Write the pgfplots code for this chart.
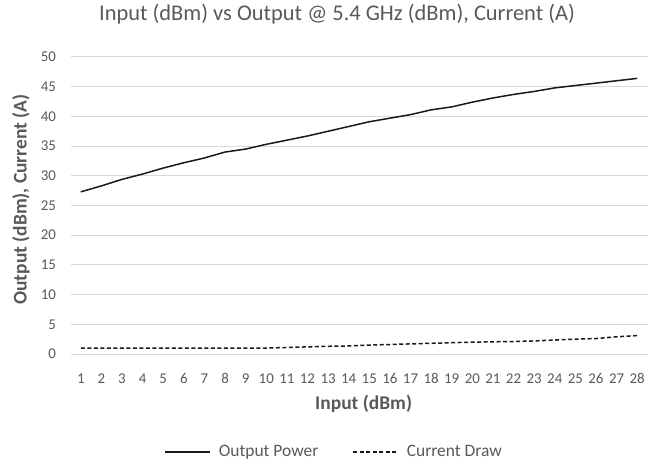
\documentclass[border=0pt]{standalone}
\usepackage{pgfplots}
\pgfplotsset{compat=1.18}
\usepackage{fontspec}
\setmainfont{Carlito}
\definecolor{txt}{HTML}{595959}
\definecolor{grd}{HTML}{D9D9D9}
\begin{document}
\begin{tikzpicture}
\path[use as bounding box] (-70.5bp,-108bp) rectangle (579.5bp,354bp);
\begin{axis}[
  at={(0,0)}, anchor=south west,
  scale only axis, width=577bp, height=297bp,
  xmin=0.5, xmax=28.5, ymin=0, ymax=50,
  xtick={1,...,28}, ytick={0,5,...,50},
  axis line style={draw=none},
  ymajorgrids, major grid style={grd, line width=1bp},
  major tick length=0pt,
  /pgf/number format/assume math mode=true,
  tick label style={font=\fontsize{15}{17}\selectfont, text=txt},
  yticklabel style={anchor=east, xshift=-11bp},
  xticklabel style={anchor=base, yshift=-29bp},
  title={Input (dBm) vs Output @ 5.4 GHz (dBm), Current (A)},
  title style={font=\fontsize{22.5}{26}\selectfont, text=txt, at={(axis description cs:0.462,1)}, anchor=center, yshift=37bp},
  xlabel={Input (dBm)},
  xlabel style={font=\bfseries\fontsize{19.5}{22}\selectfont, text=txt, at={(axis description cs:0.508,0)}, anchor=center, yshift=-50bp},
  ylabel={Output (dBm), Current (A)},
  ylabel style={font=\bfseries\fontsize{19.5}{22}\selectfont, text=txt, at={(axis description cs:-0.0858,0.52)}, anchor=center},
  legend style={at={(axis description cs:0.462,0)}, anchor=center, yshift=-98bp, draw=none, fill=none, legend columns=2, font=\fontsize{17.5}{20}\selectfont, text=txt, /tikz/every even column/.append style={column sep=26bp}, nodes={inner xsep=8bp}},
  legend image code/.code={\draw[#1] (0bp,0bp) -- (45bp,0bp);},
]
\draw[grd, line width=1bp] (axis cs:0.5,0) -- (axis cs:28.5,0);
\addplot[black!90, line width=1.5bp] coordinates {
(1,27.3)(2,28.3)(3,29.4)(4,30.3)(5,31.3)(6,32.2)(7,33.0)(8,34.0)(9,34.5)(10,35.3)
(11,36.0)(12,36.7)(13,37.5)(14,38.3)(15,39.1)(16,39.7)(17,40.3)(18,41.1)(19,41.6)(20,42.4)
(21,43.1)(22,43.7)(23,44.2)(24,44.8)(25,45.2)(26,45.6)(27,46.0)(28,46.4)};
\addlegendentry{Output Power}
\addplot[black!90, line width=1.5bp, dash pattern=on 4bp off 2.5bp] coordinates {
(1,1.0)(2,1.0)(3,1.0)(4,1.0)(5,1.0)(6,1.0)(7,1.0)(8,1.0)(9,1.0)(10,1.0)
(11,1.1)(12,1.2)(13,1.3)(14,1.35)(15,1.5)(16,1.6)(17,1.7)(18,1.8)(19,1.9)(20,2.0)
(21,2.05)(22,2.1)(23,2.2)(24,2.35)(25,2.5)(26,2.6)(27,2.9)(28,3.1)};
\addlegendentry{Current Draw}
\end{axis}
\end{tikzpicture}
\end{document}
